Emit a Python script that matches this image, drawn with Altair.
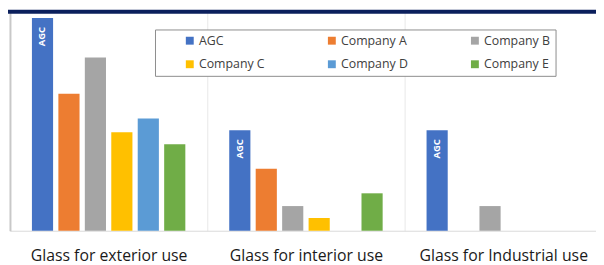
import altair as alt
import pandas as pd

categories = ["Glass for exterior use", "Glass for interior use", "Glass for Industrial use"]
companies = ["AGC", "Company A", "Company B", "Company C", "Company D", "Company E"]
colors = ["#4472C4", "#ED7D31", "#A5A5A5", "#FFC000", "#5B9BD5", "#70AD47"]
exterior = [100, 64.4, 81.5, 46.3, 52.8, 40.7]
interior = [47.2, 29.2, 11.6, 6.0, None, 17.6]
industrial = [47.2, None, 11.6, None, None, None]

rows = []
for cat, vals in zip(categories, [exterior, interior, industrial]):
    for comp, v in zip(companies, vals):
        if v is not None:
            rows.append({"category": cat, "company": comp, "share": v})
df = pd.DataFrame(rows)

FONT = "Open Sans"

x_enc = alt.X(
    "category:N",
    sort=categories,
    scale=alt.Scale(domain=categories, range=[0, 600], paddingInner=0, paddingOuter=0),
    axis=alt.Axis(
        title=None, ticks=False, tickBand="extent", grid=True, gridColor="#e8e8e8",
        domain=True, domainColor="#d9d9d9", domainWidth=1,
        labelFontSize=16, labelColor="#1a1a1a", labelFont=FONT, labelPadding=17,
        labelAngle=0, labelLimit=300,
    ),
)
xoff_enc = alt.XOffset(
    "company:N",
    sort=companies,
    scale=alt.Scale(domain=companies, paddingInner=0.2, paddingOuter=0.83),
)
y_enc = alt.Y(
    "share:Q",
    scale=alt.Scale(domain=[0, 103], nice=False),
    axis=alt.Axis(
        title=None, ticks=False, labels=False, grid=False,
        domain=True, domainColor="#c8c8c8", domainWidth=2,
    ),
)

bars = alt.Chart(df).mark_bar().encode(
    x=x_enc,
    xOffset=xoff_enc,
    y=y_enc,
    color=alt.Color(
        "company:N",
        sort=companies,
        scale=alt.Scale(domain=companies, range=colors),
        legend=alt.Legend(
            title=None, orient="none", legendX=147, legendY=18,
            direction="horizontal", columns=3, symbolType="square", symbolSize=64,
            labelFontSize=12.5, labelColor="#404040", labelFont=FONT,
            strokeColor="#8c8c8c", fillColor="white", padding=5,
            columnPadding=37, rowPadding=11, symbolOffset=24, labelOffset=3,
        ),
    ),
)

labels = alt.Chart(df).transform_filter(alt.datum.company == "AGC").mark_text(
    angle=270, align="right", baseline="middle", dx=-9, color="white",
    fontWeight="bold", fontSize=9.5, font=FONT,
).encode(x=x_enc, xOffset=xoff_enc, y=y_enc, text="company:N")

band = alt.Chart(pd.DataFrame({"k": [0]})).mark_rect(color="#0b1f5c").encode(
    x=alt.value(-2), x2=alt.value(600), y=alt.value(-2), y2=alt.value(2)
)

chart = alt.layer(bars, labels, band).properties(
    width=594, height=222,
    autosize=alt.AutoSizeParams(type="none"),
    padding={"left": 2, "top": 2, "right": 0, "bottom": 36},
).configure_view(stroke=None)

chart.save("out.html", embed_options={"renderer": "svg", "actions": False})
